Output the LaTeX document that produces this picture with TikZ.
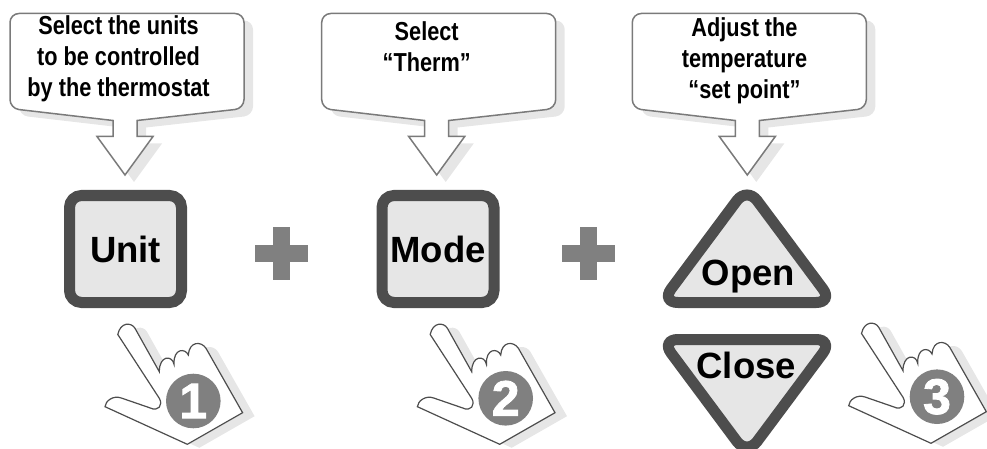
\documentclass[tikz,border=0pt]{standalone}
\usepackage{fontspec}
\setmainfont{Liberation Sans}
\newfontfamily\calloutfont[FakeStretch=0.835]{Liberation Sans Bold}
\newfontfamily\digitfont[FakeBold=1.6]{Liberation Sans Bold}

\definecolor{keyfill}{HTML}{E6E6E6}
\definecolor{keyline}{HTML}{4D4D4D}
\definecolor{calloutline}{HTML}{7A7A7A}
\definecolor{plusgray}{HTML}{808080}

\newcommand{\calloutpath}{(-115,60) [rounded corners=9pt] -- (-115,13.5) -- (119,13.5) -- (119,108.5) [sharp corners] -- (12,120.5) -- (12,136.5) -- (28,136.5) -- (0,175) -- (-28,136.5) -- (-12,136.5) -- (-12,120.5) [rounded corners=9pt] -- (-115,108.5) -- cycle}
\newcommand{\handpath}{(-58.3,-72.7) .. controls (-62,-79) and (-73,-79) .. (-75.5,-66.5) -- (-34,-2.7) .. controls (-30,4) and (-35,11) .. (-43,7) -- (-72,-3) .. controls (-80,-6) and (-88,0) .. (-88.3,5.7) -- (-6,43.3) -- (49.3,11.7) -- (12.7,-52.7) .. controls (8,-60) and (-4,-60) .. (-5,-46) .. controls (-8,-53) and (-20,-53) .. (-19.3,-36.7) .. controls (-21,-46) and (-34,-46) .. (-34,-29.3) -- cycle}

\tikzset{
	callout/.pic = {
		\fill [keyfill, shift={(9,7)}] \calloutpath;
		\draw [calloutline, line width=1.5pt, fill=white] \calloutpath;
	},
	hand/.pic = {
		\fill [keyfill, shift={(12,3.5)}] \handpath;
		\draw [keyline, line width=1.2pt, fill=white] \handpath;
	},
	calloutlabel/.style = {font=\calloutfont\fontsize{26}{31}\selectfont, align=center, inner sep=0},
	keybox/.style = {draw=keyline, fill=keyfill, line width=11pt, rounded corners=12pt, minimum width=112pt, minimum height=107pt, inner sep=0},
	keylabel/.style = {font=\bfseries\fontsize{36.5}{40}\selectfont, inner sep=0},
	keytri/.style = {draw=keyline, fill=keyfill, line width=11pt, rounded corners=17pt},
	plusmark/.style = {fill=plusgray},
	numdot/.style = {circle, fill=plusgray, minimum size=54.6pt, inner sep=0, text=white, font=\digitfont\fontsize{50}{50}\selectfont}
}

\begin{document}
\begin{tikzpicture}[x=1pt, y=-1pt]

	\useasboundingbox (0,0) rectangle (987,449);

	% callouts
	\pic at (125,0) {callout};
	\pic at (436.7,0) {callout};
	\pic at (747.3,0) {callout};
	\node [calloutlabel] (unittext) at (118.5,59) {Select the units\\to be controlled\\by the thermostat};
	\node [calloutlabel] (modetext) at (426.7,47) {Select\\“Therm”};
	\node [calloutlabel] (settext) at (744.5,61) {Adjust the\\temperature\\“set point”};

	% keys
	\node [keybox, keylabel] (unit) at (125.5,249) {Unit};
	\node [keybox, keylabel] (mode) at (438,249) {Mode};
	\draw [keytri] (747,187) -- (833,302.5) -- (661,302.5) -- cycle;
	\draw [keytri] (747,455) -- (833,339.5) -- (661,339.5) -- cycle;
	\node [keylabel, anchor=base] (open) at (748.3,285) {Open};
	\node [keylabel, anchor=base] (close) at (746.3,378.3) {Close};

	% plus signs
	\fill [plusmark] (273,227) rectangle (290,280);
	\fill [plusmark] (255,245) rectangle (308,262);
	\fill [plusmark] (580,227) rectangle (597,280);
	\fill [plusmark] (562,245) rectangle (615,262);

	% hands
	\pic at (193.3,401) {hand};
	\pic at (505.7,401) {hand};
	\pic at (937,400) {hand};
	\node [numdot] (one) at (193.3,401) {1};
	\node [numdot] (two) at (505.7,398.3) {2};
	\node [numdot] (three) at (937,396.7) {3};

\end{tikzpicture}
\end{document}
